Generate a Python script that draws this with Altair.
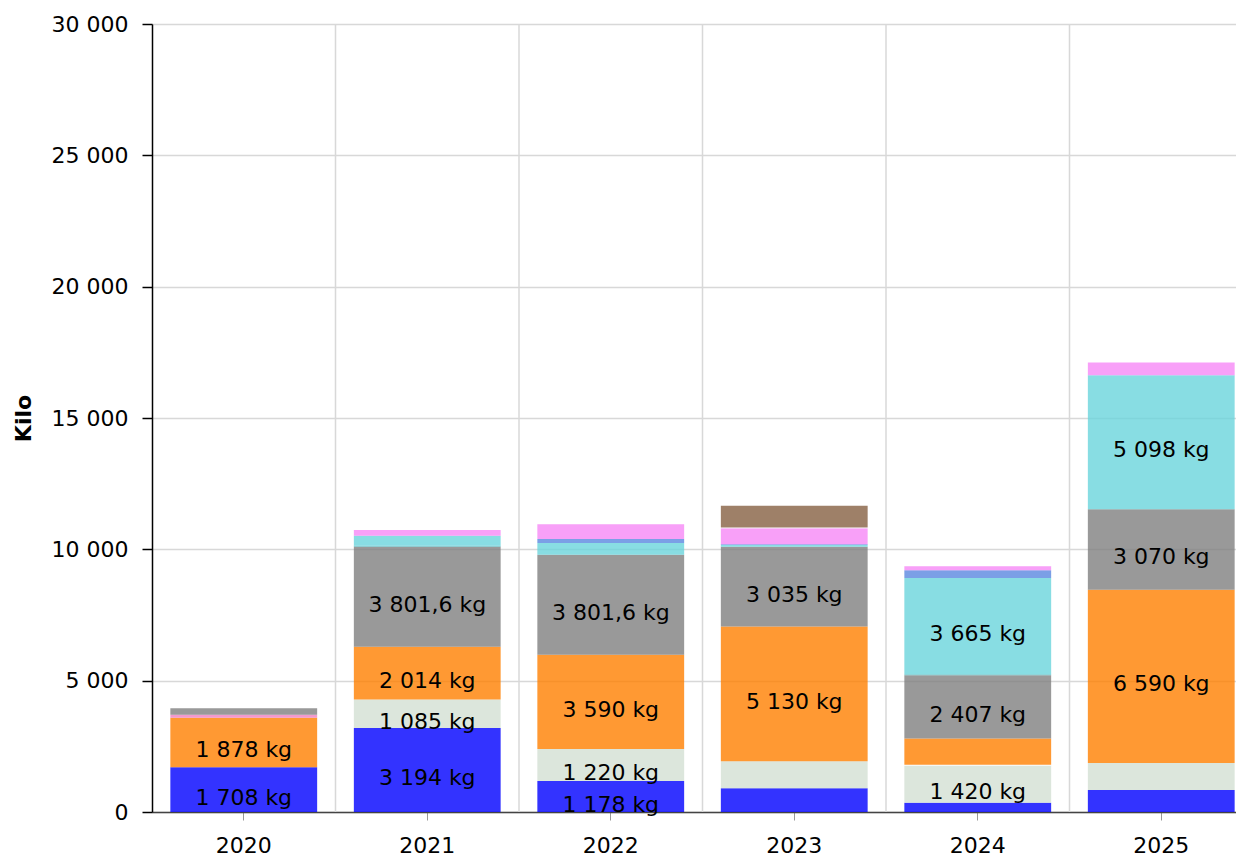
import altair as alt
import pandas as pd

years = ["2020", "2021", "2022", "2023", "2024", "2025"]

# stack order, bottom to top
categories = ["Serie 1", "Serie 2", "Serie 3", "Serie 4", "Serie 5", "Serie 6",
              "Serie 7", "Serie 8", "Serie 9", "Serie 10", "Serie 11", "Serie 12"]
colors = ["#0000ff", "#d3e0d3", "#ffffff", "#ff8000", "#f080c0", "#808080",
          "#56bac0", "#6ad4dc", "#5a87e0", "#f688f6", "#ffffff", "#866042"]

s1 = [1708, 3194, 1178, 900, 350, 840]
s2 = [0, 1085, 1220, 1030, 1420, 1030]
s3 = [0, 0, 0, 0, 25, 0]
s4 = [1878, 2014, 3590, 5130, 1000, 6590]
s5 = [120, 0, 0, 0, 0, 0]
s6 = [240, 3801.6, 3801.6, 3035, 2407, 3070]
s7 = [0, 40, 0, 0, 40, 0]
s8 = [0, 380, 450, 70, 3665, 5098]
s9 = [0, 0, 150, 30, 300, 0]
s10 = [0, 220, 570, 610, 150, 483]
s11 = [0, 0, 0, 30, 0, 0]
s12 = [0, 0, 0, 826, 0, 0]
series = [s1, s2, s3, s4, s5, s6, s7, s8, s9, s10, s11, s12]

y_ticks = [0, 5000, 10000, 15000, 20000, 25000, 30000]


def fmt(v):
    if float(v).is_integer():
        s = f"{int(v):,}".replace(",", " ")
    else:
        s = f"{v:,.1f}".replace(",", " ").replace(".", ",")
    return s + " kg"


rows = []
for ci, (cat, vals) in enumerate(zip(categories, series)):
    for yr, v in zip(years, vals):
        if v > 0:
            rows.append({"year": yr, "category": cat, "value": v, "ord": ci, "label": fmt(v)})
df = pd.DataFrame(rows)
grid_df = pd.DataFrame({"year": years[1:]})

FONT = "DejaVu Sans"
xscale = alt.Scale(domain=years, range=[0, 1101], paddingInner=0.2, paddingOuter=0.1)
yscale = alt.Scale(domain=[0, 30000], nice=False)

x_axis = alt.Axis(title=None, grid=False, labelAngle=0,
                  labelFont=FONT, labelFontSize=22, labelColor="#000000",
                  labelPadding=15, tickSize=8, tickColor="#999999", tickWidth=1,
                  domainColor="#444444", domainWidth=1.5)
y_axis = alt.Axis(title="Kilo", values=y_ticks,
                  labelExpr="replace(format(datum.value, ','), ',', ' ')",
                  grid=True, gridColor="#d8d8d8", gridWidth=1.5,
                  domainColor="#000000", domainWidth=1.5,
                  tickColor="#000000", tickSize=10, tickWidth=1.5,
                  labelFont=FONT, labelFontSize=22, labelColor="#000000",
                  labelPadding=14,
                  titleFont=FONT, titleFontSize=22, titleFontWeight="bold",
                  titleColor="#000000", titlePadding=16)

# vertical grid lines at the boundaries between the year bands
vgrid = alt.Chart(grid_df).mark_rule(color="#d8d8d8", strokeWidth=1.5, xOffset=-18.35).encode(
    x=alt.X("year:N", scale=xscale, sort=years, axis=x_axis, bandPosition=0),
    y=alt.datum(0, scale=yscale, axis=y_axis),
    y2=alt.datum(30000),
)

bars = alt.Chart(df).mark_bar(opacity=0.8).encode(
    x=alt.X("year:N", scale=xscale, sort=years, axis=x_axis),
    y=alt.Y("value:Q", stack="zero", scale=yscale, axis=y_axis),
    color=alt.Color("category:N", scale=alt.Scale(domain=categories, range=colors), legend=None),
    order=alt.Order("ord:Q", sort="ascending"),
)

text = alt.Chart(df).transform_stack(
    stack="value", groupby=["year"], sort=[alt.SortField("ord", order="ascending")],
    as_=["v0", "v1"]
).transform_calculate(
    mid="(datum.v0 + datum.v1) / 2"
).transform_filter(
    "datum.value >= 1050"
).mark_text(font=FONT, fontSize=22, color="#000000", baseline="middle", dy=8).encode(
    x=alt.X("year:N", scale=xscale, sort=years, axis=x_axis),
    y=alt.Y("mid:Q", scale=yscale, axis=y_axis),
    text="label:N",
)

chart = alt.layer(vgrid, bars, text).properties(
    width=1084, height=788,
    autosize="none",
    padding={"left": 144, "top": 16, "right": 0, "bottom": 48},
).configure_view(stroke=None)

chart.save("out.html", embed_options={"renderer": "svg", "actions": False})
